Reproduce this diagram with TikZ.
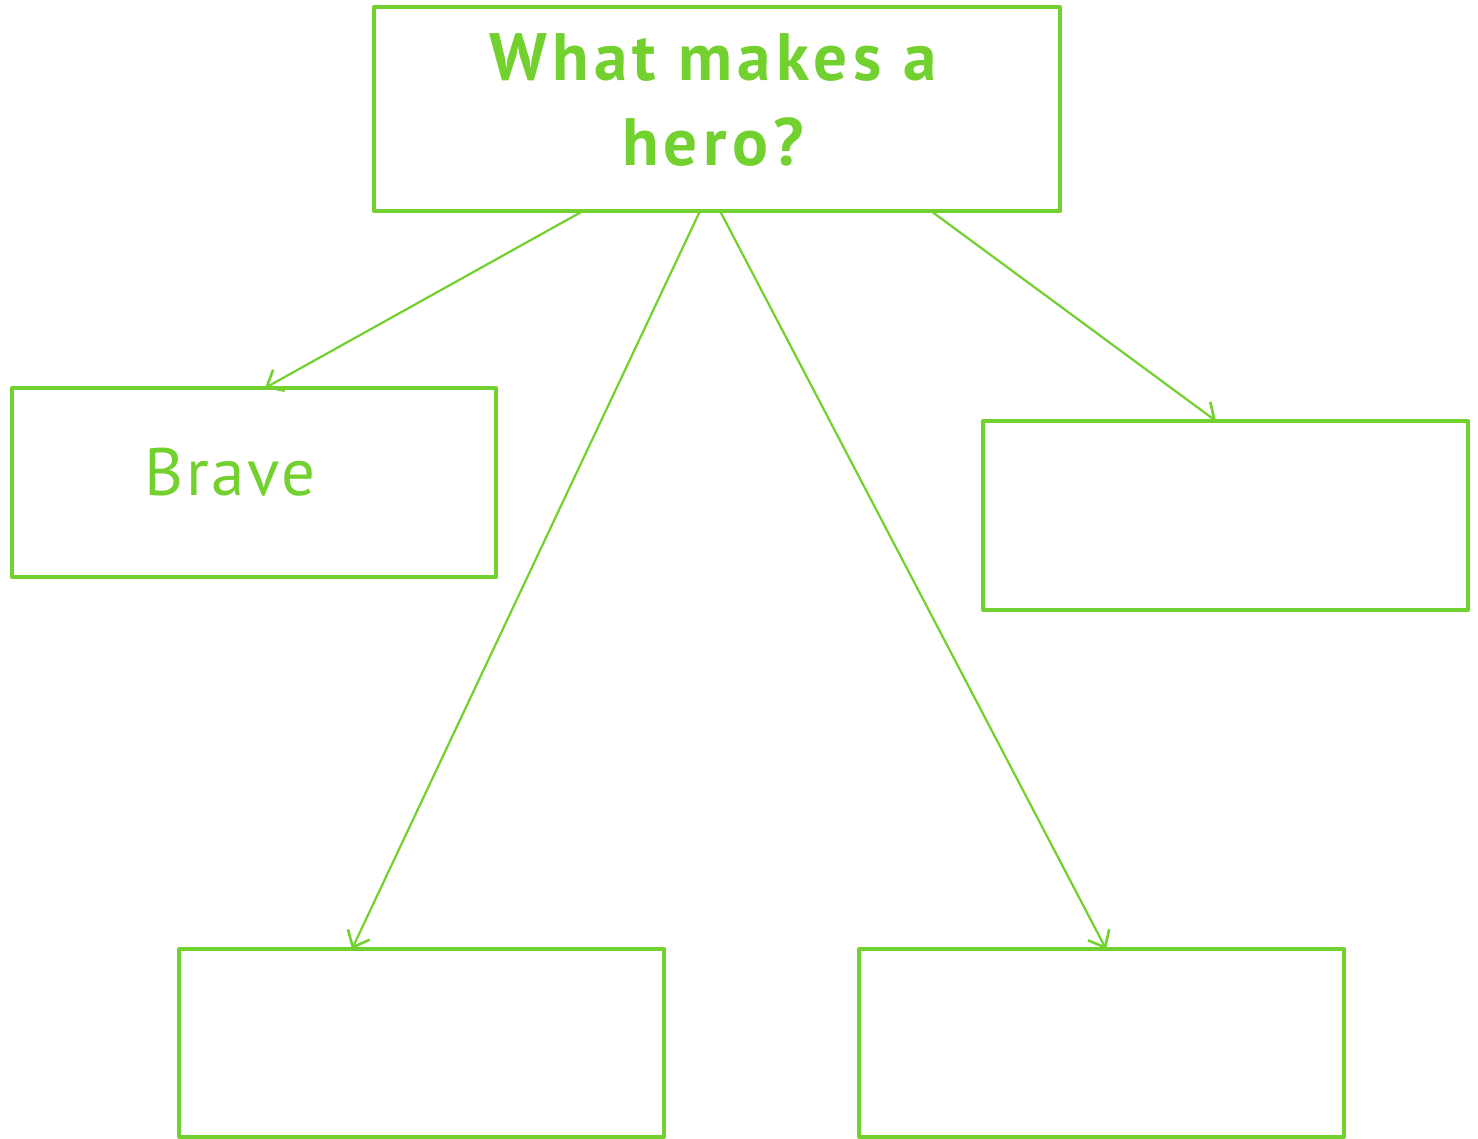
\documentclass[tikz,border=0pt]{standalone}
\usepackage{fontspec}
\setmainfont{PT Sans}
\usetikzlibrary{arrows.meta}
\definecolor{hgreen}{RGB}{114,209,46}
\tikzset{
  box/.style={draw=hgreen, line width=4pt, line join=round},
  conn/.style={draw=hgreen, line width=2.2pt, -{Straight Barb[length=14pt,width=24pt,line width=2.6pt]}},
  lbl/.style={text=hgreen, inner sep=0pt}
}
\begin{document}
\begin{tikzpicture}[x=1pt,y=-1pt]
\useasboundingbox (0,0) rectangle (1478,1139);
\draw[box] (374,7) rectangle (1060,211);
\coordinate (topA) at (583,211);
\coordinate (topB) at (700,211);
\coordinate (topC) at (720,211);
\coordinate (topD) at (931,211);
\draw[box] (12,388) rectangle (496,577);
\coordinate (brave) at (265,388);
\draw[box] (983,421) rectangle (1468,610);
\coordinate (rbox) at (1216,421);
\draw[box] (179,949) rectangle (664,1137);
\coordinate (blbox) at (352,949);
\draw[box] (859,949) rectangle (1344,1137);
\coordinate (brbox) at (1106,949);
\node[lbl, font=\fontsize{67}{85}\selectfont\bfseries\addfontfeatures{LetterSpace=8}, align=center] (title) at (713,100) {What makes a\\hero?};
\node[lbl, font=\fontsize{67}{80}\selectfont\addfontfeatures{LetterSpace=4}, anchor=base] (bravetxt) at (230,495) {Brave};
\draw[conn] (topA) -- (brave);
\draw[conn] (topB) -- (blbox);
\draw[conn] (topC) -- (brbox);
\draw[conn] (topD) -- (rbox);
\end{tikzpicture}
\end{document}
